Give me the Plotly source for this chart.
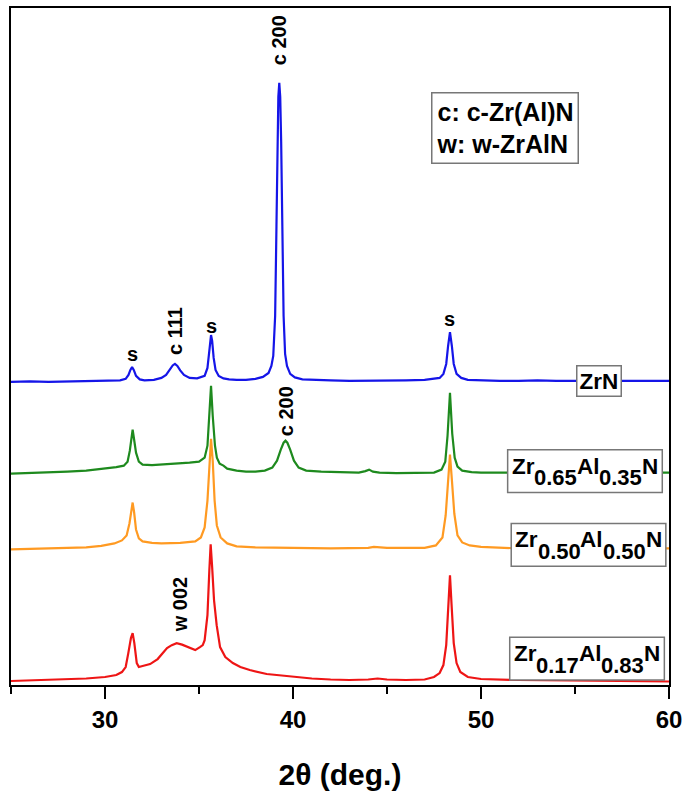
import plotly.graph_objects as go

# ---------------- data (2theta in degrees, stacked intensity in a.u.) ----------------
zrn_x = [25.0, 26.0, 27.0, 28.0, 29.0, 30.0, 30.8, 31.1, 31.25, 31.35, 31.44, 31.53, 31.65, 31.85, 32.1,
         32.6, 33.0, 33.25, 33.45, 33.6, 33.72, 33.85, 34.0, 34.2, 34.5, 34.9, 35.3, 35.45, 35.52, 35.58,
         35.64, 35.70, 35.78, 35.88, 36.05, 36.3, 36.6, 37.0, 37.5, 38.0, 38.4, 38.7, 38.85, 38.95, 39.05,
         39.12, 39.17, 39.22, 39.27, 39.32, 39.37, 39.42, 39.5, 39.58, 39.68, 39.85, 40.1, 40.5, 41.0,
         42.0, 43.0, 44.0, 45.0, 46.0, 47.0, 47.5, 47.8, 48.0, 48.15, 48.25, 48.35, 48.45, 48.55, 48.7,
         48.95, 49.3, 50.0, 51.0, 52.0, 53.0, 54.0, 55.0, 56.0, 57.0, 58.0, 59.0, 60.0]
zrn_y = [304.0, 304.5, 304.0, 304.5, 304.5, 305.0, 305.5, 307.0, 311.0, 316.0, 319.0, 316.0, 310.0, 306.5, 305.5,
         306.0, 308.0, 311.0, 316.0, 320.5, 322.0, 320.0, 315.5, 311.0, 308.0, 307.5, 310.0, 318.0, 330.0, 345.0,
         351.0, 345.0, 328.0, 316.0, 310.0, 307.5, 306.5, 306.0, 306.0, 307.0, 309.0, 313.0, 320.0, 330.0, 370.0,
         460.0, 545.0, 590.0, 604.0, 590.0, 545.0, 460.0, 370.0, 332.0, 320.0, 312.0, 308.5, 306.5, 306.0,
         305.5, 305.0, 305.0, 305.0, 305.5, 306.0, 307.0, 308.0, 312.0, 322.0, 340.0, 354.0, 340.0, 322.0, 312.0,
         308.0, 306.0, 305.5, 305.0, 305.0, 305.5, 305.0, 305.0, 305.5, 305.0, 305.0, 305.5, 305.0]

z65_x = [25.0, 26.0, 27.0, 28.0, 29.0, 30.0, 30.6, 31.0, 31.2, 31.32, 31.4, 31.47, 31.55, 31.65, 31.8,
         32.0, 32.5, 33.0, 33.5, 34.0, 34.5, 35.0, 35.3, 35.45, 35.55, 35.64, 35.73, 35.85, 35.95, 36.1,
         36.3, 36.5, 37.0, 37.5, 38.0, 38.5, 38.9, 39.15, 39.35, 39.5, 39.6, 39.7, 39.85, 40.05, 40.3,
         40.7, 41.5, 42.5, 43.5, 43.85, 44.05, 44.25, 44.6, 45.5, 46.5, 47.5, 47.9, 48.1, 48.22, 48.35,
         48.47, 48.6, 48.75, 49.0, 49.5, 50.0, 52.0, 54.0, 56.0, 58.0, 60.0]
z65_y = [212.0, 212.5, 213.0, 214.0, 215.0, 217.0, 218.5, 220.0, 224.0, 235.0, 248.0, 256.0, 246.0, 233.0, 224.0,
         221.0, 220.5, 221.0, 222.0, 222.5, 223.0, 224.0, 228.0, 240.0, 268.0, 300.0, 270.0, 240.0, 228.0, 222.0,
         220.0, 217.0, 215.0, 214.0, 214.0, 215.0, 218.0, 225.0, 236.0, 243.0, 245.0, 243.0, 236.0, 225.0, 218.0,
         215.0, 214.0, 213.5, 213.0, 214.5, 216.0, 214.0, 213.0, 212.5, 212.5, 213.0, 216.0, 224.0, 250.0, 293.0,
         252.0, 228.0, 219.0, 215.0, 213.5, 213.0, 213.0, 213.0, 213.0, 213.0, 213.0]

z50_x = [25.0, 26.0, 27.0, 28.0, 29.0, 29.8, 30.5, 30.9, 31.15, 31.3, 31.4, 31.47, 31.55, 31.65, 31.8,
         32.0, 32.5, 33.0, 34.0, 34.8, 35.1, 35.3, 35.45, 35.55, 35.64, 35.73, 35.83, 35.95, 36.15, 36.5,
         37.0, 38.0, 40.0, 42.0, 44.0, 44.3, 45.0, 47.0, 47.6, 47.95, 48.12, 48.25, 48.35, 48.45, 48.58,
         48.75, 49.0, 49.4, 50.0, 52.0, 54.0, 56.0, 58.0, 60.0]
z50_y = [136.0, 136.5, 137.0, 137.0, 138.0, 139.5, 142.0, 145.0, 150.0, 162.0, 176.0, 183.0, 173.0, 156.0, 147.0,
         144.0, 142.5, 142.0, 142.5, 144.0, 148.0, 158.0, 185.0, 225.0, 247.0, 225.0, 185.0, 160.0, 148.0, 142.0,
         139.0, 138.0, 137.5, 137.0, 137.5, 138.5, 137.5, 137.5, 140.0, 148.0, 170.0, 205.0, 231.0, 206.0, 172.0,
         150.0, 143.0, 140.0, 138.5, 137.0, 137.0, 137.0, 137.0, 137.0]

z17_x = [25.0, 26.0, 27.0, 28.0, 29.0, 30.0, 30.6, 30.9, 31.1, 31.24, 31.38, 31.47, 31.56, 31.69, 31.8,
         32.0, 32.4, 32.8, 33.1, 33.3, 33.55, 33.81, 34.1, 34.35, 34.55, 34.8, 35.05, 35.2, 35.3, 35.45,
         35.55, 35.62, 35.7, 35.8, 35.94, 36.12, 36.4, 36.8, 37.2, 37.7, 38.6, 40.0, 41.0, 42.0, 43.0,
         44.0, 44.5, 45.0, 46.0, 47.0, 47.5, 47.8, 48.0, 48.15, 48.27, 48.35, 48.43, 48.55, 48.7, 48.9,
         49.3, 50.0, 52.0, 54.0, 56.0, 58.0, 60.0]
z17_y = [4.0, 4.5, 5.0, 5.5, 6.5, 8.0, 10.0, 13.0, 18.0, 32.0, 47.0, 52.0, 42.0, 22.0, 18.0,
         19.0, 21.0, 26.0, 33.0, 37.0, 40.0, 42.0, 40.5, 38.5, 37.0, 35.0, 38.0, 40.0, 45.0, 70.0,
         115.0, 141.0, 118.0, 85.0, 60.0, 38.0, 28.0, 22.0, 18.0, 15.0, 11.0, 8.0, 6.5, 5.5, 5.0,
         5.5, 6.5, 5.5, 5.0, 5.5, 8.0, 12.0, 20.0, 40.0, 80.0, 110.0, 82.0, 42.0, 22.0, 13.0,
         8.0, 6.0, 5.0, 4.5, 4.5, 4.0, 3.5]

# sample labels as (text, is_subscript) fragments
series_labels = [
    [("ZrN", False)],
    [("Zr", False), ("0.65", True), ("Al", False), ("0.35", True), ("N", False)],
    [("Zr", False), ("0.50", True), ("Al", False), ("0.50", True), ("N", False)],
    [("Zr", False), ("0.17", True), ("Al", False), ("0.83", True), ("N", False)],
]
series_names = ["".join(("<sub>%s</sub>" % t) if s else t for t, s in lab) for lab in series_labels]
series_x = [zrn_x, z65_x, z50_x, z17_x]
series_y = [zrn_y, z65_y, z50_y, z17_y]
colors = ["#1515e8", "#1e8a1e", "#ff9a22", "#ee1515"]

# peak labels: text, 2theta, y, rotation
peak_text = ["c 200", "s", "c 111", "s", "s", "c 200", "w 002"]
peak_x = [39.27, 31.47, 33.72, 35.64, 48.35, 39.60, 33.99]
peak_y = [647, 332, 355, 360, 367, 275, 80]
peak_rot = [-90, 0, -90, 0, 0, -90, -90]

# sample-name label box centres (data coords)
label_x = [56.25, 55.53, 55.72, 55.64]
label_y = [305, 214.5, 140.5, 26.5]

x_ticks = [30, 40, 50, 60]
x_minor = [25, 35, 45, 55]

# ---------------- styling ----------------
FONT = "Liberation Sans"
MAIN_SIZE = 22.5
SUB_SIZE = 22
# Arial/Liberation Sans Bold advance widths (em)
CW = {"Z": 0.611, "r": 0.389, "A": 0.722, "l": 0.278, "N": 0.722, ".": 0.278}
for d in "0123456789":
    CW[d] = 0.556

def text_w(t, size):
    return sum(CW.get(ch, 0.556) for ch in t) * size

PX_PER_X = 659 / 35.0  # plot width / x span
BOX_PAD = 4
BOX_H = 43

fig = go.Figure()
for xs, ys, c, n in zip(series_x, series_y, colors, series_names):
    fig.add_trace(go.Scatter(x=xs, y=ys, mode="lines", line=dict(color=c, width=2.2),
                             name=n, showlegend=False, hoverinfo="skip"))

for t, x, y, r in zip(peak_text, peak_x, peak_y, peak_rot):
    fig.add_annotation(x=x, y=y, text="<b>%s</b>" % t, textangle=r, showarrow=False,
                       xanchor="center", yanchor="middle",
                       font=dict(family=FONT, size=20, color="black"))

for lab, cx, cy in zip(series_labels, label_x, label_y):
    if len(lab) == 1:
        fig.add_annotation(x=cx, y=cy, text="<b>%s</b>" % lab[0][0], showarrow=False,
                           xanchor="center", yanchor="middle",
                           font=dict(family=FONT, size=MAIN_SIZE, color="black"),
                           bgcolor="white", bordercolor="#777777", borderwidth=1.5, borderpad=2)
        continue
    widths = [text_w(t, SUB_SIZE if s else MAIN_SIZE) for t, s in lab]
    total = sum(widths)
    half_w = (total / 2 + BOX_PAD) / PX_PER_X
    fig.add_shape(type="rect", xref="x", yref="y", layer="above",
                  x0=cx - half_w, x1=cx + half_w, y0=cy - BOX_H / 2, y1=cy + BOX_H / 2,
                  fillcolor="white", line=dict(color="#777777", width=1.5))
    off = -total / 2
    for (t, s), w in zip(lab, widths):
        fig.add_annotation(x=cx, y=cy, xshift=off, yshift=(-6.5 if s else 5),
                           text="<b>%s</b>" % t, showarrow=False,
                           xanchor="left", yanchor="middle", borderpad=0, borderwidth=0,
                           font=dict(family=FONT, size=(SUB_SIZE if s else MAIN_SIZE), color="black"))
        off += w

fig.add_annotation(x=51.28, y=559, text="<b>c: c-Zr(Al)N</b><br><b>w: w-ZrAlN</b>",
                   showarrow=False, xanchor="center", yanchor="middle", align="left",
                   font=dict(family=FONT, size=25, color="black"),
                   bgcolor="white", bordercolor="#777777", borderwidth=1.5, borderpad=4)

fig.update_xaxes(range=[25, 60], tickmode="array", tickvals=x_ticks,
                 ticks="outside", ticklen=12, tickwidth=2, tickcolor="black",
                 minor=dict(tickmode="array", tickvals=x_minor, ticks="outside",
                            ticklen=7, tickwidth=2, tickcolor="black"),
                 showline=True, linecolor="black", linewidth=2, mirror=True,
                 showgrid=False, zeroline=False,
                 tickfont=dict(family=FONT, size=24, color="black", weight="bold"),
                 title=dict(text="<b>2θ (deg.)</b>", standoff=32,
                            font=dict(family=FONT, size=30, color="black")))
fig.update_yaxes(range=[0, 679], showticklabels=False, ticks="",
                 showline=True, linecolor="black", linewidth=2, mirror=True,
                 showgrid=False, zeroline=False)

fig.update_layout(width=688, height=802, margin=dict(l=11, r=18, t=6, b=117),
                  paper_bgcolor="white", plot_bgcolor="white")

fig.write_html("out.html", config={"displayModeBar": False},
               post_script="document.body.style.margin='0';document.body.style.overflow='hidden';")
